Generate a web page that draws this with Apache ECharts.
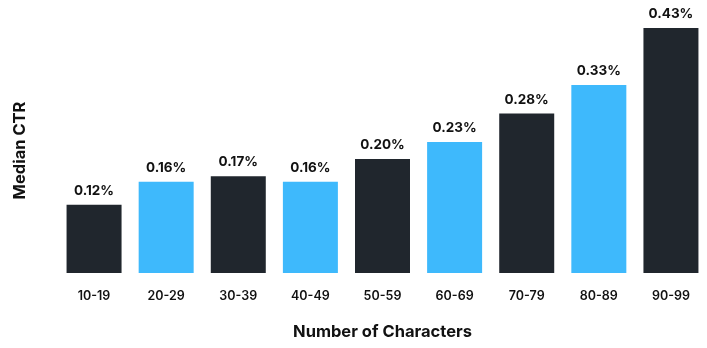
<!DOCTYPE html>
<html>
<head>
<meta charset="utf-8">
<script src="https://cdn.jsdelivr.net/npm/echarts@6/dist/echarts.min.js"></script>
<style>
  html, body { margin: 0; padding: 0; background: #fff; }
  #chart { width: 707px; height: 348px; }
</style>
</head>
<body>
<div id="chart"></div>
<script>
// Median click-through rate by title length
const categories = ['10-19', '20-29', '30-39', '40-49', '50-59', '60-69', '70-79', '80-89', '90-99'];
const medianCtr = [0.12, 0.16, 0.17, 0.16, 0.20, 0.23, 0.28, 0.33, 0.43];

const DARK = '#20262d';
const BLUE = '#3eb9fc';
const FONT = 'Inter, "Open Sans", sans-serif';

const chart = echarts.init(document.getElementById('chart'));
chart.setOption({
  animation: false,
  grid: { left: 58, right: 0, top: 28, bottom: 75 },
  xAxis: {
    type: 'category',
    data: categories,
    axisLine: { show: false },
    axisTick: { show: false },
    axisLabel: { color: '#111', fontFamily: FONT, fontWeight: 600, fontSize: 12.5, margin: 17 },
    name: 'Number of Characters',
    nameLocation: 'middle',
    nameGap: 51,
    nameTextStyle: { color: '#111', fontFamily: FONT, fontWeight: 700, fontSize: 16.5, verticalAlign: 'top' }
  },
  yAxis: {
    type: 'value',
    min: 0,
    max: 0.43,
    axisLine: { show: false },
    axisTick: { show: false },
    axisLabel: { show: false },
    splitLine: { show: false },
    name: 'Median CTR',
    nameLocation: 'middle',
    nameGap: 29,
    nameRotate: 90,
    nameTextStyle: { color: '#111', fontFamily: FONT, fontWeight: 700, fontSize: 16.5 }
  },
  series: [{
    type: 'bar',
    barWidth: 55,
    data: medianCtr.map((v, i) => ({
      value: v,
      itemStyle: { color: i % 2 === 0 ? DARK : BLUE }
    })),
    label: {
      show: true,
      position: 'top',
      distance: 7,
      color: '#111',
      fontFamily: FONT,
      fontWeight: 700,
      fontSize: 13.5,
      formatter: p => p.value.toFixed(2) + '%'
    }
  }]
});
</script>
</body>
</html>
